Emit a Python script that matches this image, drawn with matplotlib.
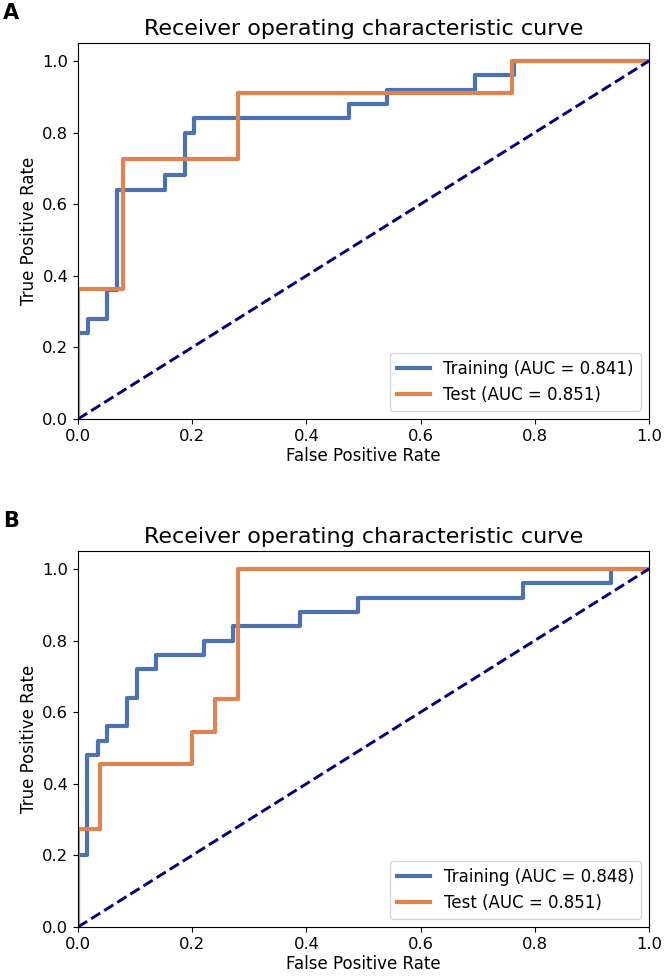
import matplotlib.pyplot as plt

# Panel A: ROC step curves (fpr, tpr)
train_a_fpr = [0.0, 0.0, 0.017, 0.017, 0.05, 0.05, 0.068, 0.068, 0.152, 0.152, 0.187, 0.187,
               0.203, 0.203, 0.474, 0.474, 0.542, 0.542, 0.696, 0.696, 0.764, 0.764, 1.0]
train_a_tpr = [0.0, 0.24, 0.24, 0.28, 0.28, 0.36, 0.36, 0.64, 0.64, 0.68, 0.68, 0.80,
               0.80, 0.84, 0.84, 0.88, 0.88, 0.92, 0.92, 0.96, 0.96, 1.0, 1.0]
test_a_fpr = [0.0, 0.0, 0.079, 0.079, 0.28, 0.28, 0.76, 0.76, 1.0]
test_a_tpr = [0.0, 0.364, 0.364, 0.727, 0.727, 0.909, 0.909, 1.0, 1.0]

# Panel B
train_b_fpr = [0.0, 0.0, 0.016, 0.016, 0.035, 0.035, 0.05, 0.05, 0.086, 0.086, 0.103, 0.103,
               0.136, 0.136, 0.22, 0.22, 0.271, 0.271, 0.388, 0.388, 0.491, 0.491,
               0.78, 0.78, 0.934, 0.934, 1.0]
train_b_tpr = [0.0, 0.20, 0.20, 0.48, 0.48, 0.52, 0.52, 0.56, 0.56, 0.64, 0.64, 0.72,
               0.72, 0.76, 0.76, 0.80, 0.80, 0.84, 0.84, 0.88, 0.88, 0.92,
               0.92, 0.96, 0.96, 1.0, 1.0]
test_b_fpr = [0.0, 0.0, 0.038, 0.038, 0.20, 0.20, 0.24, 0.24, 0.28, 0.28, 1.0]
test_b_tpr = [0.0, 0.273, 0.273, 0.455, 0.455, 0.545, 0.545, 0.636, 0.636, 1.0, 1.0]

panels = [
    ("A", train_a_fpr, train_a_tpr, 0.841, test_a_fpr, test_a_tpr, 0.851),
    ("B", train_b_fpr, train_b_tpr, 0.848, test_b_fpr, test_b_tpr, 0.851),
]

blue = '#4C72B0'
orange = '#DD8452'

fig = plt.figure(figsize=(6.65, 9.8), dpi=100)
W, H = 665, 980
# axes boxes in pixels: left, top, right, bottom
boxes = [(78, 43, 649, 419), (78, 551, 649, 927)]

for (letter, tr_f, tr_t, tr_auc, te_f, te_t, te_auc), (l, t, r, b) in zip(panels, boxes):
    ax = fig.add_axes([l / W, 1 - b / H, (r - l) / W, (b - t) / H])
    ax.plot(tr_f, tr_t, color=blue, lw=3, label=f'Training (AUC = {tr_auc:.3f})')
    ax.plot(te_f, te_t, color=orange, lw=3, label=f'Test (AUC = {te_auc:.3f})')
    ax.plot([0, 1], [0, 1], color='navy', lw=2.1, linestyle='--')
    ax.set_xlim(0.0, 1.0)
    ax.set_ylim(0.0, 1.05)
    ax.set_xlabel('False Positive Rate', fontsize=12, labelpad=2)
    ax.set_ylabel('True Positive Rate', fontsize=12, labelpad=3)
    ax.set_title('Receiver operating characteristic curve', fontsize=16)
    ax.tick_params(labelsize=11.8)
    ax.legend(loc='lower right', fontsize=12)
    fig.text(3 / W, 1 - (t - 30) / H, letter, fontsize=15, fontweight='bold', va='center')

plt.savefig('out.png', dpi=100)
